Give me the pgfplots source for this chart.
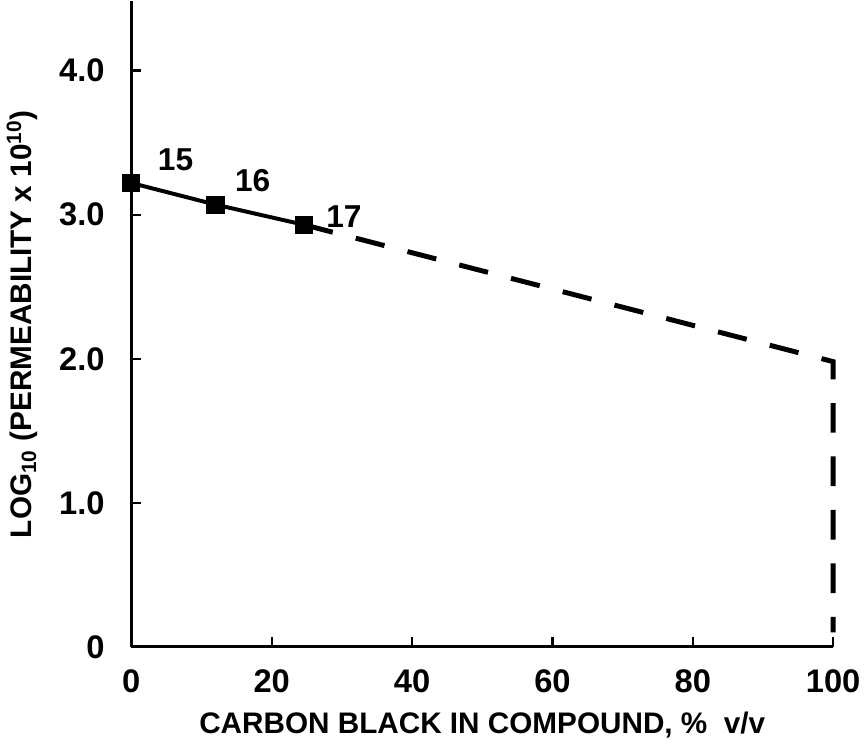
\documentclass[border=0pt]{standalone}
\usepackage{pgfplots}
\pgfplotsset{compat=1.18}
\usepackage{fontspec}
\setmainfont{Liberation Sans}

\begin{document}
\begin{tikzpicture}
\begin{axis}[
    scale only axis,
    width=354.5pt, height=326pt,
    xmin=0, xmax=100, ymin=0, ymax=4.48,
    axis lines=left,
    axis line style={-, line width=1.5pt},
    xtick={0,20,40,60,80,100},
    ytick={0,1,2,3,4},
    yticklabels={0,1.0,2.0,3.0,4.0},
    tick align=inside,
    major tick length=5pt,
    tick style={line width=1.2pt, black},
    tick label style={font=\fontsize{16.5}{19}\selectfont\bfseries},
    label style={font=\fontsize{15}{17}\selectfont\bfseries},
    /pgf/number format/assume math mode=true,
    xticklabel style={yshift=-8pt},
    yticklabel style={xshift=-10pt},
    xlabel={CARBON BLACK IN COMPOUND, \% \ v/v},
    ylabel={LOG\textsubscript{10} (PERMEABILITY x 10\textsuperscript{10})},
    xlabel style={yshift=-3pt},
    ylabel style={yshift=4pt},
    clip=false,
]
\addplot[black, line width=2.5pt, dash pattern=on 15pt off 12pt] coordinates {
    (24.6,2.93) (100,1.98) (100,0.1)
};
\addplot[black, line width=2pt, mark=square*, mark size=3.6pt] coordinates {
    (0,3.22) (12,3.07) (24.6,2.93)
};
\node[anchor=center, font=\fontsize{16}{18}\selectfont\bfseries] at (axis cs:6.3,3.38) {15};
\node[anchor=center, font=\fontsize{16}{18}\selectfont\bfseries] at (axis cs:17.3,3.24) {16};
\node[anchor=center, font=\fontsize{16}{18}\selectfont\bfseries] at (axis cs:30.3,2.99) {17};
\end{axis}
\end{tikzpicture}
\end{document}
